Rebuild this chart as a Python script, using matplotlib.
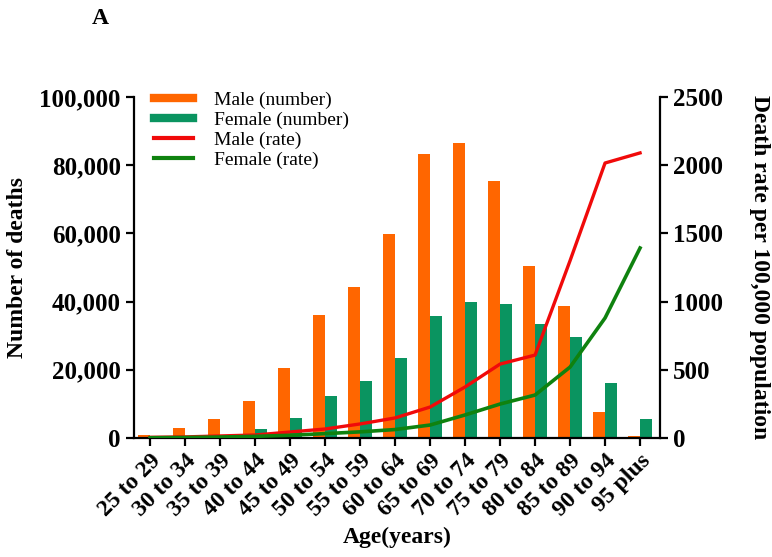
import matplotlib
matplotlib.use("Agg")
import matplotlib.pyplot as plt
from matplotlib.lines import Line2D
import numpy as np

ages = ['25 to 29', '30 to 34', '35 to 39', '40 to 44', '45 to 49', '50 to 54',
        '55 to 59', '60 to 64', '65 to 69', '70 to 74', '75 to 79', '80 to 84',
        '85 to 89', '90 to 94', '95 plus']
male_number = [900, 3000, 5600, 10900, 20500, 36000, 44300, 59800, 83300,
               86500, 75400, 50400, 38700, 7600, 600]
female_number = [100, 300, 700, 2600, 5900, 12300, 16700, 23400, 35800,
                 39900, 39300, 33400, 29600, 16100, 5600]
male_rate = [5, 8, 15, 22, 44, 66, 103, 147, 227, 374, 542, 608, 1300, 2016, 2090]
female_rate = [2, 4, 7, 12, 20, 32, 45, 62, 95, 169, 249, 315, 520, 880, 1393]

plt.rcParams['font.family'] = ['Liberation Serif', 'DejaVu Serif']
plt.rcParams['font.weight'] = 'bold'

orange = '#ff6600'
teal = '#0a9460'
red = '#f00a0a'
dgreen = '#0f820f'

fig = plt.figure(figsize=(7.72, 5.57), dpi=100)
ax = fig.add_axes([134 / 772, 1 - 438 / 557, (660 - 134) / 772, (438 - 97) / 557])
ax2 = ax.twinx()

x = np.arange(len(ages))
w = 0.34
ax.bar(x - w / 2, male_number, w, color=orange, zorder=2)
ax.bar(x + w / 2, female_number, w, color=teal, zorder=2)

ax2.plot(x, male_rate, color=red, lw=2.4, zorder=3)
ax2.plot(x, female_rate, color=dgreen, lw=2.6, zorder=3)

ax.set_xlim(-0.46, 14.57)
ax.set_ylim(0, 100000)
ax2.set_ylim(0, 2500)
ax.set_yticks(np.arange(0, 100001, 20000))
ax.set_yticklabels([f'{v:,}' for v in range(0, 100001, 20000)])
ax2.set_yticks(np.arange(0, 2501, 500))
ax.set_xticks(x)
ax.set_xticklabels(ages, rotation=45, ha='right', rotation_mode='anchor')

for a in (ax, ax2):
    a.spines['top'].set_visible(False)
    for s in ('left', 'right', 'bottom'):
        a.spines[s].set_linewidth(1.6)
    a.tick_params(width=1.6, length=6, labelsize=18)
ax.tick_params(axis='x', labelsize=17, pad=3)
ax.spines['right'].set_visible(False)
ax2.spines['left'].set_visible(False)
ax2.spines['bottom'].set_visible(False)

ax.set_ylabel('Number of deaths', fontsize=17, fontweight='bold', labelpad=8)
ax2.set_ylabel('Death rate per 100,000 population', fontsize=17, fontweight='bold',
               rotation=-90, labelpad=34)
ax.set_xlabel('Age(years)', fontsize=17, fontweight='bold', labelpad=4)

fig.text(100 / 772, 1 - 18 / 557, 'A', fontsize=17, fontweight='bold',
         ha='center', va='center')

handles = [Line2D([], [], color=orange, lw=6),
           Line2D([], [], color=teal, lw=6),
           Line2D([], [], color=red, lw=3),
           Line2D([], [], color=dgreen, lw=3)]
labels = ['Male (number)', 'Female (number)', 'Male (rate)', 'Female (rate)']
leg = fig.legend(handles, labels, loc='upper left',
                 bbox_to_anchor=(154 / 772, 1 - 91 / 557),
                 frameon=False, borderpad=0, borderaxespad=0,
                 handlelength=2.0, handletextpad=1.1, labelspacing=0.12,
                 prop={'family': 'Liberation Serif', 'weight': 'normal', 'size': 14})

fig.savefig('out.png', dpi=100)
